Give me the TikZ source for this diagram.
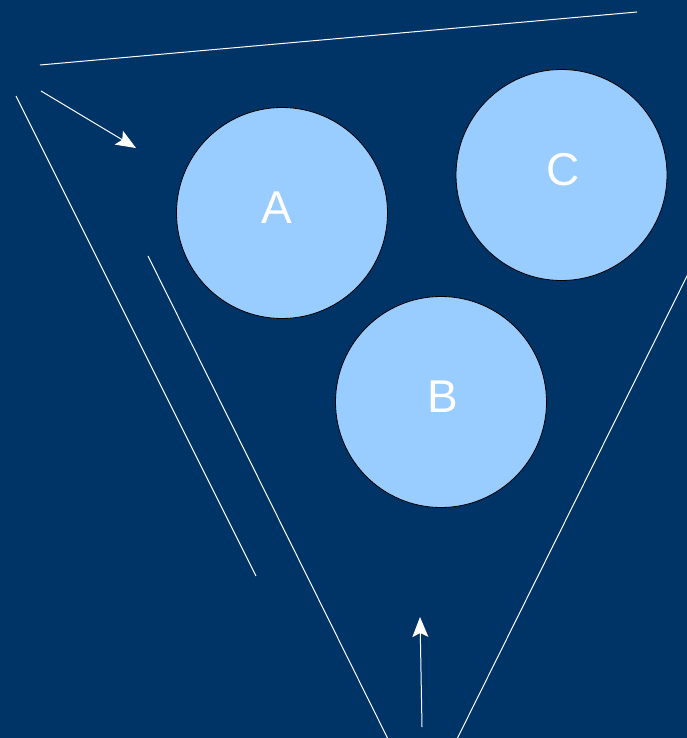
\documentclass[tikz,border=0pt]{standalone}
\usepackage{fontspec}
\setmainfont{Liberation Sans}
\usetikzlibrary{arrows.meta}
\definecolor{bg}{HTML}{003366}
\definecolor{disc}{HTML}{99CCFF}
\begin{document}
\begin{tikzpicture}[x=1pt,y=-1pt,
  disk/.style={circle,draw=black,line width=0.8pt,fill=disc,minimum size=211pt,inner sep=0pt},
  lbl/.style={text=white,font=\fontsize{46}{46}\selectfont,inner sep=0pt},
  wline/.style={draw=white,line width=1pt},
  warrow/.style={wline,-{Stealth[length=20pt,width=16pt,inset=4pt]}}]
\fill[bg] (0,0) rectangle (687,738);
\useasboundingbox (0,0) rectangle (687,738);
\node[disk] (A) at (282,213) {};
\node[disk] (C) at (561.5,175) {};
\node[disk] (B) at (441,402) {};
\node[lbl] (la) at (277,208) {A};
\node[lbl] (lc) at (563,170) {C};
\node[lbl] (lb) at (443,397) {B};
\coordinate (t1) at (40,65);
\coordinate (t2) at (637,12);
\coordinate (l1) at (16,96);
\coordinate (l2) at (256,576);
\coordinate (i1) at (148,256);
\coordinate (i2) at (388,739);
\coordinate (r1) at (688,274);
\coordinate (r2) at (457,739);
\coordinate (a1s) at (41,91);
\coordinate (a1e) at (136,148);
\coordinate (a2s) at (422,727);
\coordinate (a2e) at (420,617);
\draw[wline] (t1) -- (t2);
\draw[wline] (l1) -- (l2);
\draw[wline] (i1) -- (i2);
\draw[wline] (r1) -- (r2);
\draw[warrow] (a1s) -- (a1e);
\draw[warrow] (a2s) -- (a2e);
\end{tikzpicture}
\end{document}
